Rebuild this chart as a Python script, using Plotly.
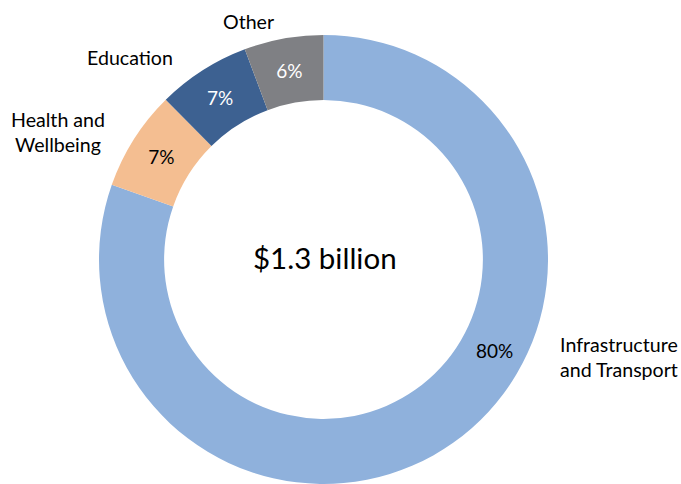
import plotly.graph_objects as go

categories = ["Infrastructure and Transport", "Health and Wellbeing", "Education", "Other"]
label_text = ["Infrastructure<br>and Transport", "Health and<br>Wellbeing", "Education", "Other"]
values = [80.4, 7.2, 6.7, 5.7]
colors = ["#8FB1DC", "#F4BE91", "#3D6191", "#7F8084"]
pct_colors = ["#000000", "#000000", "#FFFFFF", "#FFFFFF"]
center_label = "$1.3 billion"

W, H = 681, 484
FONT = "Lato"

total = sum(values)
texts = ["" if i == 0 else f"{round(v / total * 100)}%" for i, v in enumerate(values)]

fig = go.Figure(go.Pie(
    labels=categories,
    values=values,
    sort=False,
    direction="clockwise",
    rotation=0,
    hole=0.71,
    marker=dict(colors=colors, line=dict(width=0)),
    text=texts,
    textinfo="text",
    textposition="inside",
    insidetextorientation="horizontal",
    textfont=dict(family=FONT, size=19, color=pct_colors),
    domain=dict(x=[99 / W, 548 / W], y=[0, 449 / H]),
    showlegend=False,
    hoverinfo="label+percent",
))

def px(x, y):
    return x / W, 1 - y / H

anns = []
# outside category labels
label_pos = [(619, 357), (58, 132), (130, 57), (248, 22)]
for t, (x, y) in zip(label_text, label_pos):
    ax, ay = px(x, y)
    anns.append(dict(text=t, x=ax, y=ay, xref="paper", yref="paper", showarrow=False,
                     xanchor="center", yanchor="middle", align="center",
                     font=dict(family=FONT, size=19.6, color="#000000")))
# large slice percentage
ax, ay = px(494, 350)
anns.append(dict(text=f"{round(values[0] / total * 100)}%", x=ax, y=ay, xref="paper", yref="paper",
                 showarrow=False, xanchor="center", yanchor="middle",
                 font=dict(family=FONT, size=19, color="#000000")))
# center label
ax, ay = px(325, 257)
anns.append(dict(text=center_label, x=ax, y=ay, xref="paper", yref="paper", showarrow=False,
                 xanchor="center", yanchor="middle",
                 font=dict(family=FONT, size=29.5, color="#000000")))

fig.update_layout(
    width=W, height=H,
    margin=dict(l=0, r=0, t=0, b=0),
    paper_bgcolor="white",
    plot_bgcolor="white",
    annotations=anns,
)

fig.write_html("out.html")
